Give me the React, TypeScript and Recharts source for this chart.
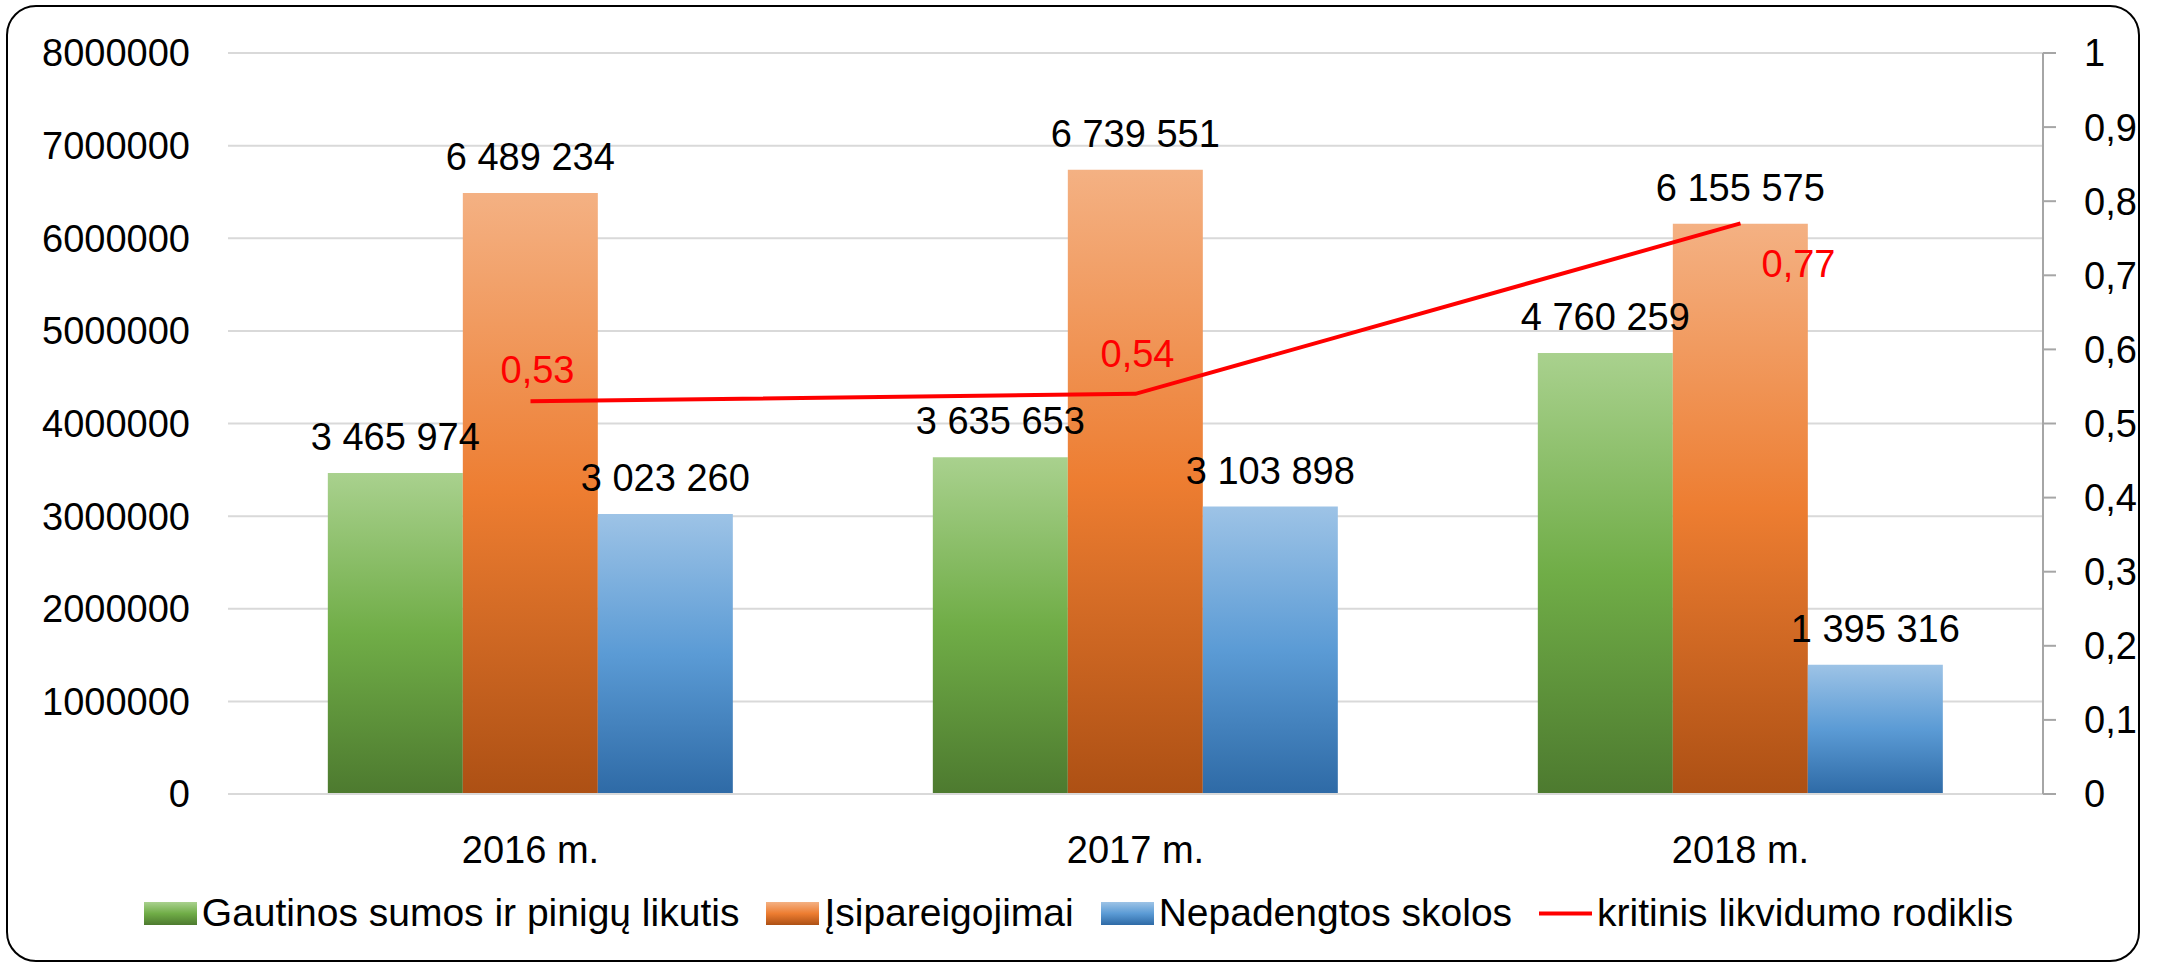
import React from 'react';
import { ComposedChart, Bar, Line, XAxis, YAxis, CartesianGrid, Legend, LabelList } from 'recharts';

const categories = ['2016 m.', '2017 m.', '2018 m.'];
const receivables = [3465974, 3635653, 4760259];
const liabilities = [6489234, 6739551, 6155575];
const uncovered = [3023260, 3103898, 1395316];
const ratio = [0.53, 0.54, 0.77];

const seriesNames = ['Gautinos sumos ir pinigų likutis', 'Įsipareigojimai', 'Nepadengtos skolos', 'kritinis likvidumo rodiklis'];
const leftTicks = [0, 1000000, 2000000, 3000000, 4000000, 5000000, 6000000, 7000000, 8000000];
const rightTicks = [0, 0.1, 0.2, 0.3, 0.4, 0.5, 0.6, 0.7, 0.8, 0.9, 1];

const ratioLabelOffsets = [
  { dx: 7, dy: -31 },
  { dx: 2, dy: -40 },
  { dx: 58, dy: 41 },
];

const data = categories.map((c, i) => ({
  year: c,
  receivables: receivables[i],
  liabilities: liabilities[i],
  uncovered: uncovered[i],
  ratio: ratio[i],
}));

const FONT = '"Liberation Sans", Arial, sans-serif';
const FS = 38;
const LEGEND_FS = 39;

const fmtThousands = (v: any) => String(v).replace(/\B(?=(\d{3})+(?!\d))/g, ' ');
const fmtComma = (v: any) => String(v).replace('.', ',');

const gradients = [
  { id: 'gGreen', stops: ['#a9d18e', '#70ad47', '#4d7a2f'] },
  { id: 'gOrange', stops: ['#f4b183', '#ed7d31', '#ad5014'] },
  { id: 'gBlue', stops: ['#9dc3e6', '#5b9bd5', '#2e6aa6'] },
];

const RatioLabel = (props: any) => {
  const { x, y, value, index } = props;
  const o = ratioLabelOffsets[index] || { dx: 0, dy: 0 };
  return (
    <text x={x + o.dx} y={y + o.dy} fill="#ff0000" fontSize={FS} textAnchor="middle" dominantBaseline="central" fontFamily={FONT}>
      {fmtComma(value)}
    </text>
  );
};

const LegendContent = () => {
  const swatches = ['url(#gGreen)', 'url(#gOrange)', 'url(#gBlue)', 'line'];
  return (
    <div style={{ display: 'flex', justifyContent: 'center', alignItems: 'center', fontSize: LEGEND_FS, fontFamily: FONT, whiteSpace: 'nowrap', color: '#000' }}>
      {seriesNames.map((n, i) => (
        <div key={n} style={{ display: 'flex', alignItems: 'center', marginRight: i < 3 ? 27 : 0 }}>
          <svg width={53} height={23} style={{ display: 'block' }}>
            {swatches[i] === 'line' ? (
              <line x1={0} x2={53} y1={11.5} y2={11.5} stroke="#ff0000" strokeWidth={4} />
            ) : (
              <rect x={0} y={0} width={53} height={23} fill={swatches[i]} />
            )}
          </svg>
          <span style={{ marginLeft: 5 }}>{n}</span>
        </div>
      ))}
    </div>
  );
};

export default function App() {
  return (
    <div style={{ position: 'absolute', left: 0, top: 0, width: 2157, height: 964, background: '#fff', fontFamily: FONT }}>
      <div style={{ position: 'absolute', left: 6, top: 5, width: 2134, height: 957, boxSizing: 'border-box', border: '2.5px solid #000', borderRadius: 30 }} />
      <div style={{ position: 'absolute', left: 0, top: 0 }}>
        <ComposedChart width={2157} height={964} data={data} margin={{ top: 53, right: 0, bottom: 75, left: 0 }} barCategoryGap="16.5%" barGap={0}>
          <defs>
            {gradients.map((g) => (
              <linearGradient key={g.id} id={g.id} x1="0" y1="0" x2="0" y2="1">
                <stop offset="0%" stopColor={g.stops[0]} />
                <stop offset="50%" stopColor={g.stops[1]} />
                <stop offset="100%" stopColor={g.stops[2]} />
              </linearGradient>
            ))}
          </defs>
          <CartesianGrid yAxisId="left" vertical={false} stroke="#d9d9d9" strokeWidth={2} />
          <XAxis dataKey="year" height={95} axisLine={{ stroke: '#d9d9d9', strokeWidth: 2 }} tickLine={false} tickSize={0} tickMargin={42} tick={{ fill: '#000', fontSize: FS }} />
          <YAxis yAxisId="left" domain={[0, 8000000]} ticks={leftTicks} width={228} axisLine={false} tickLine={false} tickSize={0} tickMargin={38} tick={{ fill: '#000', fontSize: FS }} interval={0} />
          <YAxis yAxisId="right" orientation="right" domain={[0, 1]} ticks={rightTicks} width={114} axisLine={{ stroke: '#a6a6a6', strokeWidth: 2 }} tickLine={{ stroke: '#a6a6a6', strokeWidth: 2 }} tickSize={13} tickMargin={28} tickFormatter={fmtComma} tick={{ fill: '#000', fontSize: FS }} interval={0} />
          <Bar yAxisId="left" dataKey="receivables" name={seriesNames[0]} fill="url(#gGreen)" isAnimationActive={false}>
            <LabelList dataKey="receivables" position="top" offset={23} formatter={fmtThousands} fill="#000" fontSize={FS} />
          </Bar>
          <Bar yAxisId="left" dataKey="liabilities" name={seriesNames[1]} fill="url(#gOrange)" isAnimationActive={false}>
            <LabelList dataKey="liabilities" position="top" offset={23} formatter={fmtThousands} fill="#000" fontSize={FS} />
          </Bar>
          <Bar yAxisId="left" dataKey="uncovered" name={seriesNames[2]} fill="url(#gBlue)" isAnimationActive={false}>
            <LabelList dataKey="uncovered" position="top" offset={23} formatter={fmtThousands} fill="#000" fontSize={FS} />
          </Bar>
          <Line yAxisId="right" dataKey="ratio" name={seriesNames[3]} stroke="#ff0000" strokeWidth={4} dot={false} activeDot={false} isAnimationActive={false}>
            <LabelList dataKey="ratio" content={RatioLabel} />
          </Line>
          <Legend layout="horizontal" verticalAlign="middle" align="center" content={LegendContent} wrapperStyle={{ top: 891, left: 0, width: 2157, height: 46 }} />
        </ComposedChart>
      </div>
    </div>
  );
}
